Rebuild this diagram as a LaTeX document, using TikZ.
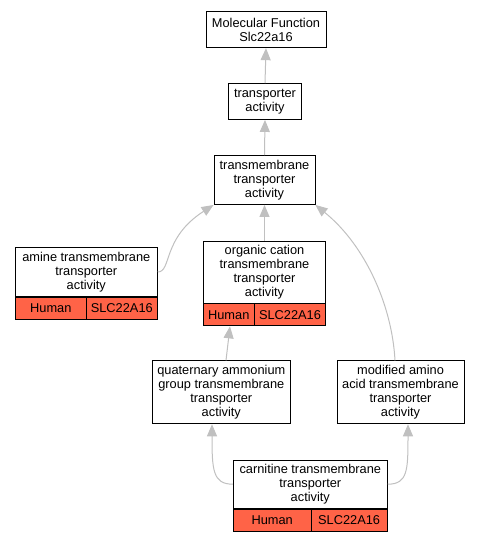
\documentclass[tikz,border=0pt]{standalone}
\usepackage{fontspec}
\setmainfont{Liberation Sans}
\usetikzlibrary{arrows.meta}
\definecolor{edgegray}{HTML}{C0C0C0}
\definecolor{tomatofill}{HTML}{FF6347}
\begin{document}
\begin{tikzpicture}[x=1pt,y=-1pt,
  box/.style={draw=black, fill=white, line width=0.9pt, align=center, inner sep=0pt,
    font=\fontsize{12.8}{13.8}\selectfont},
  cell/.style={draw=black, fill=tomatofill, line width=0.9pt, inner sep=0pt,
    font=\fontsize{12.8}{13.8}\selectfont},
  edge/.style={draw=edgegray, line width=1pt, -{Triangle[length=12pt,width=10pt]}}]
\useasboundingbox (0,0) rectangle (480,541);
% top nodes
\node[box, minimum width=120pt, minimum height=36pt] (mf) at (266,29.7) {Molecular Function\\Slc22a16};
\node[box, minimum width=73pt, minimum height=36pt] (ta) at (265,101.5) {transporter\\activity};
\node[box, minimum width=101pt, minimum height=49pt] (tm) at (264.5,180) {transmembrane\\transporter\\activity};
% amine
\node[box, minimum width=142pt, minimum height=49.5pt] (am) at (86.3,272) {amine transmembrane\\transporter\\activity};
\node[cell, minimum width=71pt, minimum height=21.6pt, anchor=north west] (amh) at (am.south west) {Human};
\node[cell, minimum width=71pt, minimum height=21.6pt, anchor=north east] (ams) at (am.south east) {SLC22A16};
% organic cation
\node[box, minimum width=122.5pt, minimum height=62pt] (oc) at (264.5,272) {organic cation\\transmembrane\\transporter\\activity};
\node[cell, minimum width=51pt, minimum height=22pt, anchor=north west] (och) at (oc.south west) {Human};
\node[cell, minimum width=71.5pt, minimum height=22pt, anchor=north east] (ocs) at (oc.south east) {SLC22A16};
% quaternary & modified
\node[box, minimum width=138pt, minimum height=63pt] (qa) at (221.3,392.3) {quaternary ammonium\\group transmembrane\\transporter\\activity};
\node[box, minimum width=127pt, minimum height=63pt] (ma) at (400.5,392.3) {modified amino\\acid transmembrane\\transporter\\activity};
% carnitine
\node[box, minimum width=154pt, minimum height=48.3pt] (ca) at (310.3,484.2) {carnitine transmembrane\\transporter\\activity};
\node[cell, minimum width=77.7pt, minimum height=21.7pt, anchor=north west] (cah) at (ca.south west) {Human};
\node[cell, minimum width=76.3pt, minimum height=21.7pt, anchor=north east] (cas) at (ca.south east) {SLC22A16};
% edges
\draw[edge] (ta.north) -- (mf.south);
\draw[edge] (tm.north) -- (ta.south);
\draw[edge] (oc.north) -- (tm.south);
\draw[edge] (am.east) .. controls +(14,0) and (162,238) .. (tm.south west);
\draw[edge] (ma.north -| 395,0) .. controls (392,305) and (365,245) .. (tm.south east);
\draw[edge] (qa.north -| 226,0) -- (och.south -| 230,0);
\draw[edge] (ca.west) .. controls +(-20,0) and (212,470) .. (qa.south -| 212,0);
\draw[edge] (ca.east) .. controls +(20,0) and (408,470) .. (ma.south -| 408,0);
\end{tikzpicture}
\end{document}
